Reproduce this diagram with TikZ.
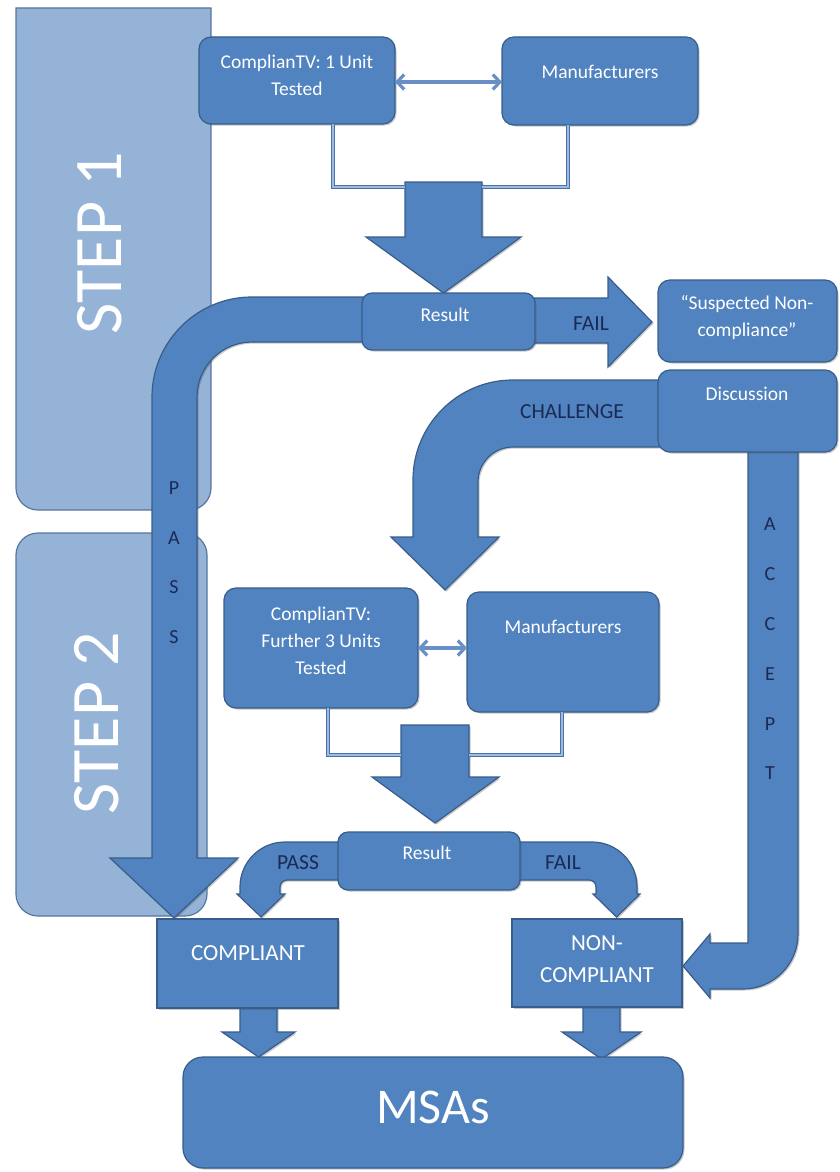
\documentclass[tikz,border=0pt]{standalone}
\usepackage{fontspec}
\setmainfont{Carlito}
\usetikzlibrary{arrows.meta,shadows}
\definecolor{boxblue}{HTML}{5183C0}
\definecolor{boxedge}{HTML}{385D8A}
\definecolor{panelblue}{HTML}{95B3D7}
\definecolor{paneledge}{HTML}{56779F}
\definecolor{darktext}{HTML}{1A2A55}
\definecolor{connlight}{HTML}{9DBBE0}
\definecolor{conndark}{HTML}{4A72A8}
\definecolor{dblblue}{HTML}{6890C4}
\begin{document}
\begin{tikzpicture}[x=1pt,y=-1pt,
  shadowed/.style={drop shadow={shadow xshift=1.5pt,shadow yshift=-1.5pt,opacity=0.3,fill=black!70}},
  box/.style={draw=boxedge, fill=boxblue, line width=1.2pt, rounded corners=12pt, inner sep=0pt, outer sep=0pt, shadowed},
  sqbox/.style={box, rounded corners=0pt},
  arrowshape/.style={draw=boxedge, fill=boxblue, line width=1.2pt, line join=miter, shadowed},
  panel/.style={draw=paneledge, fill=panelblue, line width=1.2pt},
  wtxt/.style={text=white, font=\fontsize{19.5}{27}\selectfont, align=center, inner sep=0pt},
  bigtxt/.style={text=white, font=\fontsize{23}{32}\selectfont, align=center, inner sep=0pt},
  steptxt/.style={text=white, font=\fontsize{68}{70}\selectfont, rotate=90, inner sep=0pt},
  dtxt/.style={text=darktext, font=\fontsize{21.5}{24}\selectfont, inner sep=0pt},
  ltxt/.style={text=darktext, font=\fontsize{20}{24}\selectfont, inner sep=0pt},
  conn/.style={draw=conndark, line width=0.9pt, double=connlight, double distance=1.8pt},
  biarrow/.style={draw=dblblue, line width=3.2pt, arrows={Straight Barb[length=7pt,width=15pt]-Straight Barb[length=7pt,width=15pt]}}
]
\useasboundingbox (0,0) rectangle (839,1172);
\fill[white] (0,0) rectangle (839,1172);

% step panels
\path[panel] (16,8) -- (211,8) -- (211,488) .. controls (211,500.15) and (201.15,510) .. (189,510) -- (38,510) .. controls (25.85,510) and (16,500.15) .. (16,488) -- cycle;
\path[panel, rounded corners=22pt] (16,533) rectangle (207,916);
\node[steptxt] (s1) at (100,243) {STEP 1};
\node[steptxt] (s2) at (97,723) {STEP 2};

% block arrows
\path[arrowshape] (372,297) -- (252,297) .. controls (196.8,297) and (152,341.8) .. (152,397) -- (152,858) -- (110,858) -- (174,918) -- (238,858) -- (197,858) -- (197,397) .. controls (197,366.6) and (221.6,342) .. (252,342) -- (372,342) -- cycle;
\path[arrowshape] (668,380) -- (513,380) .. controls (457.8,380) and (413,424.8) .. (413,480) -- (413,537) -- (391,537) -- (445,590) -- (499,537) -- (478,537) -- (478,482) .. controls (478,462.7) and (493.7,447) .. (513,447) -- (668,447) -- cycle;
\path[arrowshape] (748,445) -- (798,445) -- (798,934) .. controls (798,964.4) and (773.4,989) .. (743,989) -- (710,989) -- (710,998) -- (683,966) -- (710,934) -- (710,943) -- (748,943) -- cycle;
\path[arrowshape] (530,298) -- (608,298) -- (608,277) -- (652,322) -- (608,367) -- (608,343) -- (530,343) -- cycle;
\path[arrowshape] (405,182) -- (482,182) -- (482,237) -- (521,237) -- (443.5,293) -- (366,237) -- (405,237) -- cycle;
\path[arrowshape] (401,725) -- (469,725) -- (469,777) -- (499,777) -- (435,823) -- (372,777) -- (401,777) -- cycle;
\path[arrowshape] (345,842) -- (285,842) .. controls (260.1,842) and (240,862.1) .. (240,887) -- (240,894) -- (237,894) -- (261,917) -- (285,894) -- (280,894) -- (280,887) .. controls (280,883.1) and (283.1,880) .. (287,880) -- (345,880) -- cycle;
\path[arrowshape] (515,842) -- (592,842) .. controls (616.9,842) and (637,862.1) .. (637,887) -- (637,894) -- (640,894) -- (616.5,917) -- (593,894) -- (596,894) -- (596,887) .. controls (596,883.1) and (592.9,880) .. (589,880) -- (515,880) -- cycle;
\path[arrowshape] (240,1008) -- (277,1008) -- (277,1032) -- (295,1032) -- (258.5,1057) -- (222,1032) -- (240,1032) -- cycle;
\path[arrowshape] (583,1007) -- (620,1007) -- (620,1032) -- (641,1032) -- (601.5,1059) -- (562,1032) -- (583,1032) -- cycle;

\coordinate (a1L) at (405,187);
\coordinate (a1R) at (482,187);
\coordinate (a2L) at (401,755);
\coordinate (a2R) at (469,755);

% boxes
\node[box, minimum width=196pt, minimum height=87pt] (ctv1) at (297,80.5) {};
\node[box, minimum width=196pt, minimum height=88pt] (mfr1) at (600,81) {};
\node[box, rounded corners=10pt, minimum width=173pt, minimum height=57pt] (res1) at (448.5,321.5) {};
\node[box, minimum width=179pt, minimum height=82pt] (susp) at (747.5,321) {};
\node[box, minimum width=179pt, minimum height=82pt] (disc) at (747.5,411) {};
\node[box, minimum width=194pt, minimum height=120pt] (ctv2) at (321,648) {};
\node[box, minimum width=192pt, minimum height=120pt] (mfr2) at (563,652) {};
\node[box, rounded corners=10pt, minimum width=182pt, minimum height=58pt] (res2) at (429,861) {};
\node[sqbox, minimum width=181pt, minimum height=89pt] (comp) at (247.5,963.5) {};
\node[sqbox, minimum width=170pt, minimum height=88pt] (ncomp) at (597,963) {};
\node[box, rounded corners=20pt, minimum width=500pt, minimum height=111pt] (msas) at (433,1112.5) {};

% connectors
\draw[conn] ([xshift=36pt]ctv1.south) |- (a1L);
\draw[conn] ([xshift=-32pt]mfr1.south) |- (a1R);
\draw[conn] ([xshift=7pt]ctv2.south) |- (a2L);
\draw[conn] ([xshift=-1pt]mfr2.south) |- (a2R);
\draw[biarrow] ([yshift=-1.5pt]ctv1.east) -- ([yshift=-1.5pt]ctv1.east -| mfr1.west);
\draw[biarrow] (ctv2.east) -- (ctv2.east -| mfr2.west);

% box texts
\node[wtxt] (t-ctv1) at (297,75) {ComplianTV: 1 Unit\\Tested};
\node[wtxt] (t-mfr1) at (600,72) {Manufacturers};
\node[wtxt] (t-res1) at (445,315) {Result};
\node[wtxt] (t-susp) at (747,318) {“Suspected Non-\\compliance”};
\node[wtxt] (t-disc) at (747,394) {Discussion};
\node[wtxt] (t-ctv2) at (321,641) {ComplianTV:\\Further 3 Units\\Tested};
\node[wtxt] (t-mfr2) at (563,627) {Manufacturers};
\node[wtxt] (t-res2) at (427,853) {Result};
\node[bigtxt] (t-comp) at (248,953) {COMPLIANT};
\node[bigtxt] (t-ncomp) at (597,959) {NON-\\COMPLIANT};
\node[text=white, font=\fontsize{50}{52}\selectfont, inner sep=0pt] (t-msas) at (433,1107) {MSAs};

% arrow labels
\node[dtxt] (l-fail1) at (591,324) {FAIL};
\node[dtxt] (l-chal) at (572,412) {CHALLENGE};
\node[dtxt] (l-pass2) at (298,863) {PASS};
\node[dtxt] (l-fail2) at (563,863) {FAIL};
\foreach \ch/\yy [count=\i] in {P/488,A/538,S/587,S/637}
  \node[ltxt] (l-pass-\i) at (174,\yy) {\ch};
\foreach \ch/\yy [count=\i] in {A/524,C/574,C/624,E/674,P/724,T/773}
  \node[ltxt] (l-acc-\i) at (770,\yy) {\ch};
\end{tikzpicture}
\end{document}
